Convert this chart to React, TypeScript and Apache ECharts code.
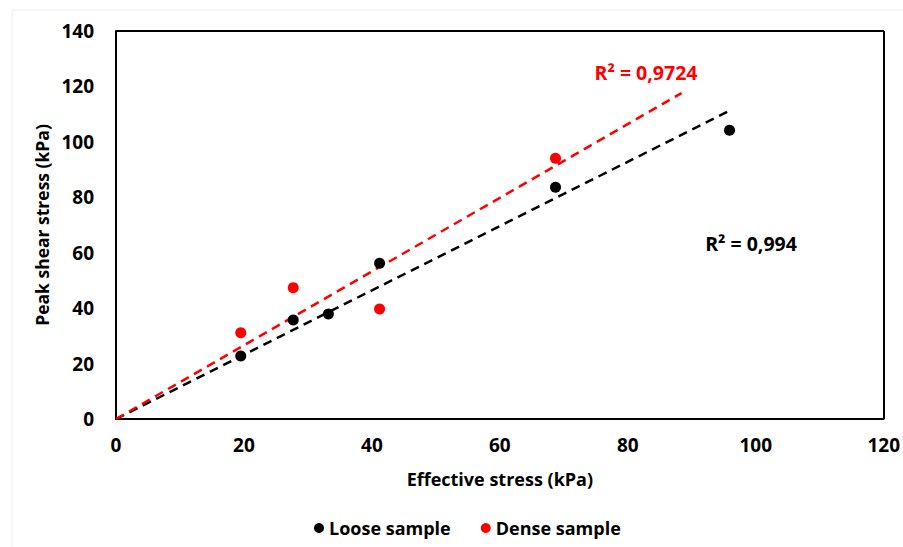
import React, { useEffect, useRef } from "react";
import * as echarts from "echarts";

const xTicks = [0, 20, 40, 60, 80, 100, 120];
const yTicks = [0, 20, 40, 60, 80, 100, 120, 140];

const looseX = [19.5, 27.7, 33.2, 41.2, 68.7, 95.9];
const looseY = [22.7, 35.7, 37.9, 56.2, 83.6, 104.2];

const denseX = [19.5, 27.7, 41.2, 68.7];
const denseY = [31.1, 47.4, 39.7, 94.1];

// Trendline endpoints (through origin)
const looseTrendX = [0, 96.1];
const looseTrendY = [0, 111.5];
const denseTrendX = [0, 88.4];
const denseTrendY = [0, 117.6];

const looseR2 = "R² = 0,994";
const denseR2 = "R² = 0,9724";

const FONT = "'Open Sans', Lato, sans-serif";

export default function App() {
  const ref = useRef<HTMLDivElement>(null);
  useEffect(() => {
    document.body.style.margin = "0";
    const chart = echarts.init(ref.current!, null, { renderer: "svg" });
    const zip = (xs: number[], ys: number[]) => xs.map((x, i) => [x, ys[i]]);
    chart.setOption({
      animation: false,
      backgroundColor: "#ffffff",
      textStyle: { fontFamily: FONT },
      grid: { left: 116, top: 31, right: 19, bottom: 128 },
      xAxis: {
        type: "value",
        min: xTicks[0],
        max: xTicks[xTicks.length - 1],
        interval: 20,
        name: "Effective stress (kPa)",
        nameLocation: "middle",
        nameGap: 51,
        nameTextStyle: { fontSize: 18, fontWeight: "bold", color: "#000", fontFamily: FONT },
        axisLine: { show: true, lineStyle: { color: "#000", width: 2 } },
        axisTick: { show: false },
        splitLine: { show: false },
        axisLabel: { fontSize: 19, fontWeight: "bold", color: "#000", margin: 16, fontFamily: FONT },
      },
      yAxis: {
        type: "value",
        min: yTicks[0],
        max: yTicks[yTicks.length - 1],
        interval: 20,
        name: "Peak shear stress (kPa)",
        nameLocation: "middle",
        nameGap: 61,
        nameTextStyle: { fontSize: 17.5, fontWeight: "bold", color: "#000", fontFamily: FONT },
        axisLine: { show: true, lineStyle: { color: "#000", width: 2 } },
        axisTick: { show: false },
        splitLine: { show: false },
        axisLabel: { fontSize: 19, fontWeight: "bold", color: "#000", margin: 22, fontFamily: FONT },
      },
      legend: {
        data: ["Loose sample", "Dense sample"],
        top: 514,
        left: 309,
        icon: "circle",
        itemWidth: 10,
        itemHeight: 10,
        itemGap: 30,
        textStyle: { fontSize: 18, fontWeight: "bold", color: "#000", fontFamily: FONT },
      },
      graphic: [
        {
          type: "rect",
          shape: { x: 12, y: 10, width: 900, height: 545 },
          style: { fill: "none", stroke: "#eeeeee", lineWidth: 1 },
          silent: true,
        },
        {
          type: "line",
          shape: { x1: 116, y1: 31, x2: 884, y2: 31 },
          style: { stroke: "#000", lineWidth: 2 },
          silent: true,
        },
        {
          type: "line",
          shape: { x1: 884, y1: 31, x2: 884, y2: 419 },
          style: { stroke: "#000", lineWidth: 2 },
          silent: true,
        },
        {
          type: "text",
          x: 646,
          y: 72,
          style: {
            text: denseR2,
            fill: "#ff0000",
            font: `bold 19.5px ${FONT}`,
            textAlign: "center",
            textVerticalAlign: "middle",
          },
        },
        {
          type: "text",
          x: 751,
          y: 243,
          style: {
            text: looseR2,
            fill: "#000",
            font: `bold 19.5px ${FONT}`,
            textAlign: "center",
            textVerticalAlign: "middle",
          },
        },
      ],
      series: [
        {
          name: "Loose trend",
          type: "line",
          data: zip(looseTrendX, looseTrendY),
          symbol: "none",
          lineStyle: { color: "#000", width: 2.5, type: [9, 6] },
          z: 1,
        },
        {
          name: "Dense trend",
          type: "line",
          data: zip(denseTrendX, denseTrendY),
          symbol: "none",
          lineStyle: { color: "#ff0000", width: 2.5, type: [9, 6] },
          z: 1,
        },
        {
          name: "Loose sample",
          type: "scatter",
          data: zip(looseX, looseY),
          symbol: "circle",
          symbolSize: 11,
          itemStyle: { color: "#000", opacity: 1 },
          z: 3,
        },
        {
          name: "Dense sample",
          type: "scatter",
          data: zip(denseX, denseY),
          symbol: "circle",
          symbolSize: 11,
          itemStyle: { color: "#ff0000", opacity: 1 },
          z: 2,
        },
      ],
    });
    return () => chart.dispose();
  }, []);
  return (
    <div
      ref={ref}
      style={{ position: "absolute", left: 0, top: 0, width: 903, height: 547 }}
    />
  );
}
